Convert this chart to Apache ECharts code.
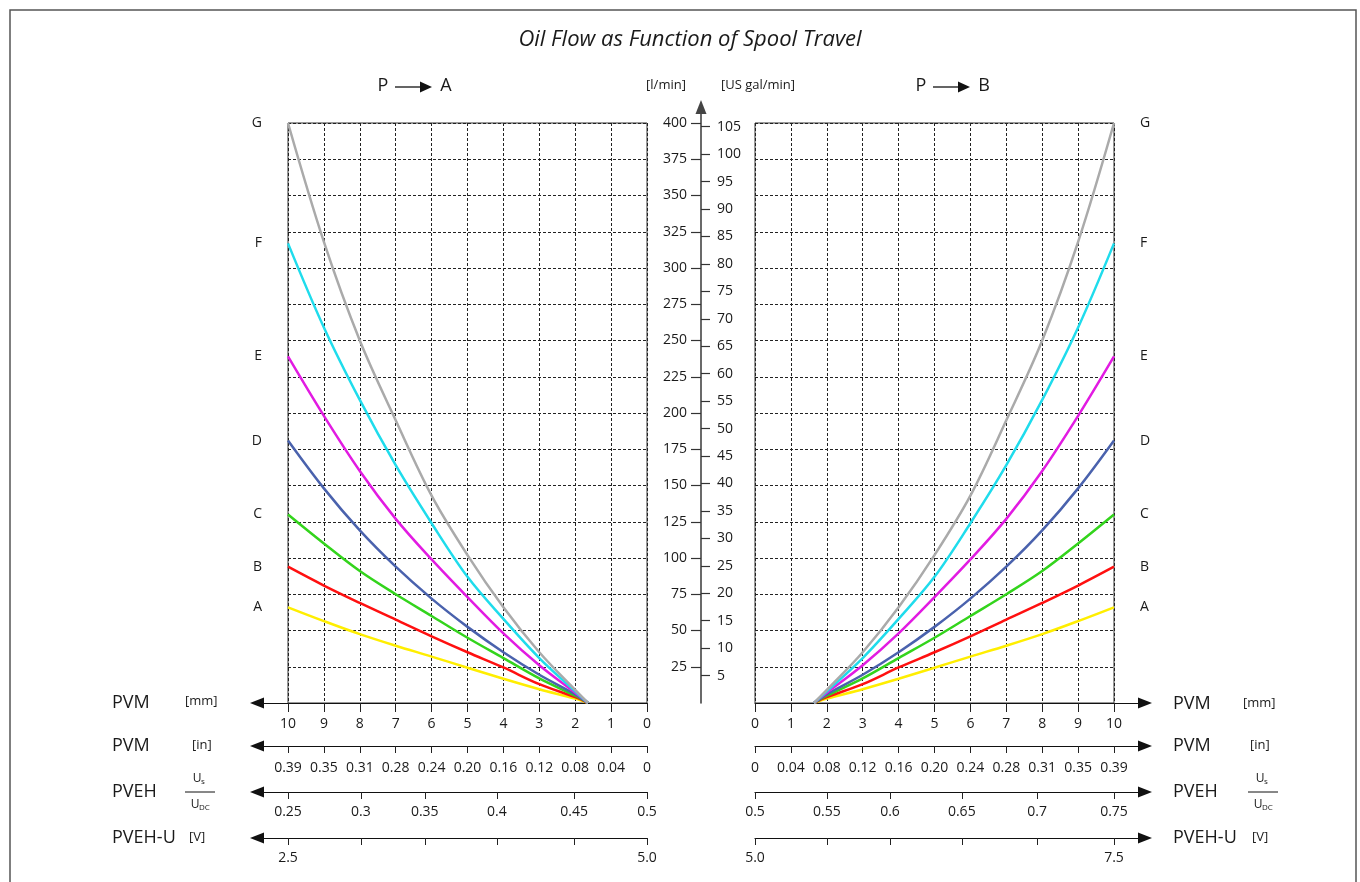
<!DOCTYPE html>
<html><head><meta charset="utf-8">
<script src="https://cdn.jsdelivr.net/npm/echarts@6/dist/echarts.min.js"></script>
<style>html,body{margin:0;padding:0;background:#fff}#c{width:1360px;height:882px}</style>
</head><body><div id="c"></div>
<script>
// ---------------- data ----------------
const seriesNames = ['A', 'B', 'C', 'D', 'E', 'F', 'G'];
const travelMm = [1.64, 2, 3, 4, 5, 6, 7, 8, 9, 10];
const flowA = [0, 3, 9.5, 16.7, 24.3, 32, 39.5, 47.5, 56.5, 66];
const flowB = [0, 4, 13, 24.5, 35, 46, 57.5, 69, 81, 94];
const flowC = [0, 5, 17, 31, 45, 60, 75, 91, 110, 130];
const flowD = [0, 6, 19.5, 35, 52.5, 72, 94, 119, 148, 181];
const flowE = [0, 7, 26, 48, 73, 99, 127, 160, 198, 239];
const flowF = [0, 8, 31, 58, 87, 124, 164, 209, 259, 317];
const flowG = [0, 9, 35, 66, 102, 143, 195, 250, 318, 400];
const seriesColors = ['#ffee00', '#ff1010', '#33d41c', '#4a62ad', '#e21be2', '#1fdcec', '#aaaaaa'];

const mmTicks = [0, 1, 2, 3, 4, 5, 6, 7, 8, 9, 10];
const inchLabels = ['0', '0.04', '0.08', '0.12', '0.16', '0.20', '0.24', '0.28', '0.31', '0.35', '0.39'];
const lpmTicks = [25, 50, 75, 100, 125, 150, 175, 200, 225, 250, 275, 300, 325, 350, 375, 400];
const galTicks = [5, 10, 15, 20, 25, 30, 35, 40, 45, 50, 55, 60, 65, 70, 75, 80, 85, 90, 95, 100, 105];
const LITRES_PER_GAL = 3.78541;

const pvehLeftLabels = ['0.5', '0.45', '0.4', '0.35', '0.3', '0.25'];
const pvehLeftTravel = [0, 2.03, 4.18, 6.19, 7.97, 10];
const pvehRightLabels = ['0.5', '0.55', '0.6', '0.65', '0.7', '0.75'];
const pvehRightTravel = [0, 2.0, 3.76, 5.76, 7.86, 10];
const voltLeftLabels = ['5.0', '', '', '', '', '2.5'];
const voltRightLabels = ['5.0', '', '', '', '', '7.5'];

// ---------------- layout ----------------
const FONT = '"Open Sans", sans-serif';
const TXT = '#1a1a1a';
const PLOT_TOP = 123, PLOT_H = 580, PLOT_W = 359;
const LEFT_X = 288, RIGHT_X = 755;
const PX_PER_MM = PLOT_W / 10;
const AXIS_LEN = 390;
const AXIS_MAX_MM = AXIS_LEN / PX_PER_MM;
const CENTER_X = 701, CENTER_TOP = 107;
const CENTER_H = PLOT_TOP + PLOT_H - CENTER_TOP;
const CENTER_MAX = CENTER_H / (PLOT_H / 400);
const bottomRows = [703, 746, 792, 838];
const bottomMargins = [14, 15, 13, 13];

const flows = [flowA, flowB, flowC, flowD, flowE, flowF, flowG];

const grids = [], xAxes = [], yAxes = [], series = [];

function pairs(vals) { return travelMm.map((t, i) => [t, vals[i]]); }
function lookup(travel, labels) {
  return function (v) {
    for (let i = 0; i < travel.length; i++) if (Math.abs(travel[i] - v) < 1e-6) return labels[i];
    return '';
  };
}

const gridLine = { show: true, lineStyle: { color: '#222', width: 1, type: [3, 2] } };

// plot grids 0 (left, P->A) and 1 (right, P->B)
[LEFT_X, RIGHT_X].forEach((gx, gi) => {
  grids.push({ left: gx, top: PLOT_TOP, width: PLOT_W, height: PLOT_H, show: true,
    borderColor: '#333', borderWidth: 1, backgroundColor: 'transparent', outerBoundsMode: 'none' });
  xAxes.push({ gridIndex: gi, type: 'value', min: 0, max: 10, interval: 1, inverse: gi === 0,
    axisLine: { show: false }, axisTick: { show: false }, axisLabel: { show: false }, splitLine: gridLine });
  yAxes.push({ gridIndex: gi, type: 'value', min: 0, max: 400, interval: 25,
    axisLine: { show: false }, axisTick: { show: false }, axisLabel: { show: false }, splitLine: gridLine });
  flows.forEach((f, si) => {
    series.push({
      type: 'line', name: seriesNames[si], xAxisIndex: gi, yAxisIndex: gi,
      data: pairs(f), smooth: 0.35, showSymbol: false, symbol: 'none',
      lineStyle: { color: seriesColors[si], width: 2.5 }, itemStyle: { color: seriesColors[si] },
      endLabel: { show: true, formatter: '{a}', distance: 26, color: TXT, fontSize: 14, fontFamily: FONT },
      z: 3 + si
    });
  });
});

// center vertical axis grid (index 2)
grids.push({ left: CENTER_X, top: CENTER_TOP, width: 1, height: CENTER_H, outerBoundsMode: 'none' });
xAxes.push({ gridIndex: 2, type: 'value', show: false });
yAxes.push({ gridIndex: 2, type: 'value', position: 'left', min: 0, max: CENTER_MAX,
  axisLine: { show: true, onZero: false, lineStyle: { color: '#444', width: 1.6 }, symbol: ['none', 'triangle'], symbolSize: [11, 14] },
  axisTick: { show: true, customValues: lpmTicks, length: 10, lineStyle: { color: '#333', width: 1.2 } },
  axisLabel: { show: true, customValues: lpmTicks, margin: 14, color: TXT, fontSize: 14, fontFamily: FONT },
  splitLine: { show: false } });
yAxes.push({ gridIndex: 2, type: 'value', position: 'right', min: 0, max: CENTER_MAX / LITRES_PER_GAL,
  axisLine: { show: false },
  axisTick: { show: true, customValues: galTicks, length: 9, lineStyle: { color: '#333', width: 1.2 } },
  axisLabel: { show: true, customValues: galTicks, margin: 15, color: TXT, fontSize: 14, fontFamily: FONT },
  splitLine: { show: false } });

// bottom axes
const bottomDefs = [
  { ticks: mmTicks, fmt: v => String(Math.round(v)), tickLen: 9 },
  { ticks: mmTicks, fmt: v => inchLabels[Math.round(v)], tickLen: 7 },
  null, null
];
['left', 'right'].forEach(side => {
  bottomRows.forEach((rowY, ri) => {
    const gi = grids.length;
    let ticks, fmt, tickLen = 7;
    if (ri < 2) { ticks = bottomDefs[ri].ticks; fmt = bottomDefs[ri].fmt; tickLen = bottomDefs[ri].tickLen; }
    else if (ri === 2) {
      ticks = side === 'left' ? pvehLeftTravel : pvehRightTravel;
      fmt = lookup(ticks, side === 'left' ? pvehLeftLabels : pvehRightLabels);
    } else {
      ticks = side === 'left' ? pvehLeftTravel : pvehRightTravel;
      fmt = lookup(ticks, side === 'left' ? voltLeftLabels : voltRightLabels);
    }
    const left = side === 'left' ? LEFT_X + PLOT_W - AXIS_LEN : RIGHT_X;
    grids.push({ left: left, top: rowY - 10, width: AXIS_LEN, height: 10, outerBoundsMode: 'none' });
    xAxes.push({ gridIndex: gi, type: 'value', position: 'bottom', min: 0, max: AXIS_MAX_MM, inverse: side === 'left',
      axisLine: { show: true, onZero: false, lineStyle: { color: '#111', width: 1.2 },
        symbol: side === 'left' ? ['triangle', 'none'] : ['none', 'triangle'], symbolSize: [11, 14] },
      axisTick: { show: true, customValues: ticks, length: tickLen, lineStyle: { color: '#222', width: 1 } },
      axisLabel: { show: true, customValues: ticks, formatter: fmt, margin: bottomMargins[ri],
        color: TXT, fontSize: 14, fontFamily: FONT, hideOverlap: false },
      splitLine: { show: false } });
    yAxes.push({ gridIndex: gi, type: 'value', show: false });
  });
});

// ---------------- text & decorations ----------------
function txt(x, y, s, size, extra) {
  return Object.assign({ type: 'text', x: x, y: y, silent: true,
    style: Object.assign({ text: s, fontSize: size, fontFamily: FONT, fill: TXT, align: 'left', verticalAlign: 'middle' }, extra || {}) });
}
function hline(x1, x2, y, w) {
  return { type: 'line', silent: true, shape: { x1: x1, y1: y, x2: x2, y2: y }, style: { stroke: '#111', lineWidth: w || 1.2 } };
}
function arrowHead(tipX, y) {
  return { type: 'polygon', silent: true, shape: { points: [[tipX - 12, y - 5.5], [tipX, y], [tipX - 12, y + 5.5]] }, style: { fill: '#111' } };
}
function fraction(cx, cy) {
  return [
    txt(cx - 3, cy - 13, 'U', 12, { align: 'center' }),
    txt(cx + 1, cy - 10, 's', 8, { align: 'left' }),
    hline(cx - 15, cx + 15, cy, 1),
    txt(cx - 5, cy + 13, 'U', 12, { align: 'center' }),
    txt(cx - 1, cy + 16, 'DC', 8, { align: 'left' })
  ];
}

const graphics = [
  { type: 'rect', silent: true, shape: { x: 10, y: 10, width: 1346, height: 900 }, style: { fill: 'none', stroke: '#555', lineWidth: 1.5 } },
  txt(690, 40, 'Oil Flow as Function of Spool Travel', 22, { align: 'center', fontStyle: 'italic' }),
  // P -> A
  txt(383, 86, 'P', 18, { align: 'center' }), hline(395, 424, 87, 1.3), arrowHead(432, 87), txt(446, 86, 'A', 18, { align: 'center' }),
  // P -> B
  txt(921, 86, 'P', 18, { align: 'center' }), hline(933, 962, 87, 1.3), arrowHead(970, 87), txt(984, 86, 'B', 18, { align: 'center' }),
  txt(666, 85, '[l/min]', 13, { align: 'center' }),
  txt(758, 85, '[US gal/min]', 13, { align: 'center' }),
  // left names
  txt(112, 703, 'PVM', 18), txt(185, 701, '[mm]', 13),
  txt(112, 746, 'PVM', 18), txt(192, 745, '[in]', 13),
  txt(112, 792, 'PVEH', 18),
  txt(112, 838, 'PVEH-U', 18), txt(189, 837, '[V]', 13),
  // right names
  txt(1173, 704, 'PVM', 18), txt(1243, 703, '[mm]', 13),
  txt(1173, 746, 'PVM', 18), txt(1250, 745, '[in]', 13),
  txt(1173, 792, 'PVEH', 18),
  txt(1173, 838, 'PVEH-U', 18), txt(1252, 837, '[V]', 13)
].concat(fraction(200, 792), fraction(1263, 792));

const chart = echarts.init(document.getElementById('c'), null, { renderer: 'canvas' });
chart.setOption({
  animation: false,
  backgroundColor: '#fff',
  textStyle: { fontFamily: FONT },
  grid: grids, xAxis: xAxes, yAxis: yAxes, series: series,
  graphic: graphics
});
</script></body></html>
